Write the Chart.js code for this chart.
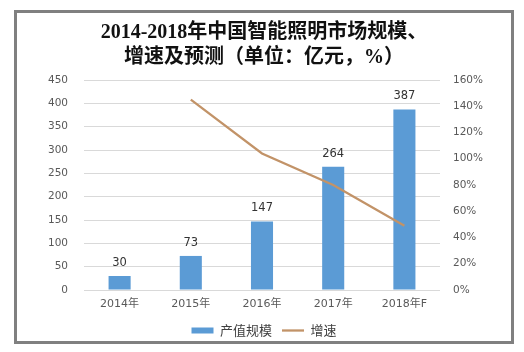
<!DOCTYPE html>
<html lang="zh-CN">
<head>
  <meta charset="UTF-8">
  <title>中国智能照明市场规模</title>
  <script src="https://cdn.jsdelivr.net/npm/chart.js"></script>
  <style>
    body {
      margin: 0;
      background: #fff;
    }
    .frame {
      position: absolute;
      left: 14px;
      top: 10px;
      width: 500px;
      height: 334px;
      box-sizing: border-box;
      border: 3px solid #808080;
      background: #fff;
    }
    .frame canvas {
      display: block;
    }
  </style>
</head>
<body>
  <div class="frame">
    <canvas id="grafico" width="494" height="328"></canvas>
  </div>

  <script>
    const anos = ['2014年', '2015年', '2016年', '2017年', '2018年F'];
    const producao = [30, 73, 147, 264, 387];
    const crescimento = [null, 145, 104, 80, 49];

    const azul = '#5B9BD5';
    const marrom = '#C29368';

    // rótulos em cima das barras
    const rotulos = {
      id: 'rotulos',
      afterDatasetsDraw(chart) {
        const ctx = chart.ctx;
        const meta = chart.getDatasetMeta(0);
        ctx.save();
        ctx.font = '11.5px "DejaVu Sans", sans-serif';
        ctx.fillStyle = '#333';
        ctx.textAlign = 'center';
        ctx.textBaseline = 'middle';
        meta.data.forEach((bar, i) => {
          ctx.fillText(producao[i], bar.x, bar.y - 13);
        });
        ctx.restore();
      }
    };

    const ctx = document.getElementById('grafico').getContext('2d');
    new Chart(ctx, {
      type: 'bar',
      data: {
        labels: anos,
        datasets: [{
          label: '产值规模',
          data: producao,
          backgroundColor: azul,
          borderWidth: 0,
          barPercentage: 0.31,
          categoryPercentage: 1,
          yAxisID: 'y',
          order: 1,
          pointStyle: 'rect'
        }, {
          type: 'line',
          label: '增速',
          data: crescimento,
          borderColor: marrom,
          backgroundColor: marrom,
          borderWidth: 2.3,
          pointRadius: 0,
          pointStyle: 'line',
          tension: 0,
          yAxisID: 'y1',
          order: 0
        }]
      },
      options: {
        responsive: false,
        animation: false,
        layout: {
          padding: { left: 0, right: 0, top: 0, bottom: -6 }
        },
        scales: {
          x: {
            grid: { display: false, drawTicks: false },
            border: { display: false },
            ticks: {
              color: '#595959',
              padding: 8,
              font: { family: '"DejaVu Sans", "Noto Sans CJK SC"', size: 11 }
            },
            afterFit: (s) => { s.height = 24; }
          },
          y: {
            position: 'left',
            min: 0,
            max: 450,
            ticks: {
              stepSize: 50,
              color: '#595959',
              padding: 16,
              font: { family: '"DejaVu Sans"', size: 10.5 }
            },
            grid: { color: '#D9D9D9', drawTicks: false },
            border: { display: false },
            afterFit: (s) => { s.width = 67; }
          },
          y1: {
            position: 'right',
            min: 0,
            max: 160,
            ticks: {
              stepSize: 20,
              color: '#595959',
              padding: 13,
              font: { family: '"DejaVu Sans"', size: 10.5 },
              callback: (v) => v + '%'
            },
            grid: { display: false, drawTicks: false },
            border: { display: false },
            afterFit: (s) => { s.width = 71; }
          }
        },
        plugins: {
          title: {
            display: true,
            text: ['2014-2018年中国智能照明市场规模、', '增速及预测（单位：亿元，%）'],
            color: '#111',
            font: { family: '"Liberation Serif", "Noto Sans CJK SC"', size: 20, weight: 'bold', lineHeight: 1.22 },
            padding: { top: 8, bottom: 10.2 }
          },
          legend: {
            position: 'bottom',
            labels: {
              usePointStyle: true,
              pointStyleWidth: 22,
              boxHeight: 6,
              padding: 10,
              color: '#404040',
              font: { family: '"Noto Sans CJK SC"', size: 13 },
              sort: (a, b) => a.datasetIndex - b.datasetIndex
            }
          },
          tooltip: { enabled: false }
        }
      },
      plugins: [rotulos]
    });
  </script>
</body>
</html>
